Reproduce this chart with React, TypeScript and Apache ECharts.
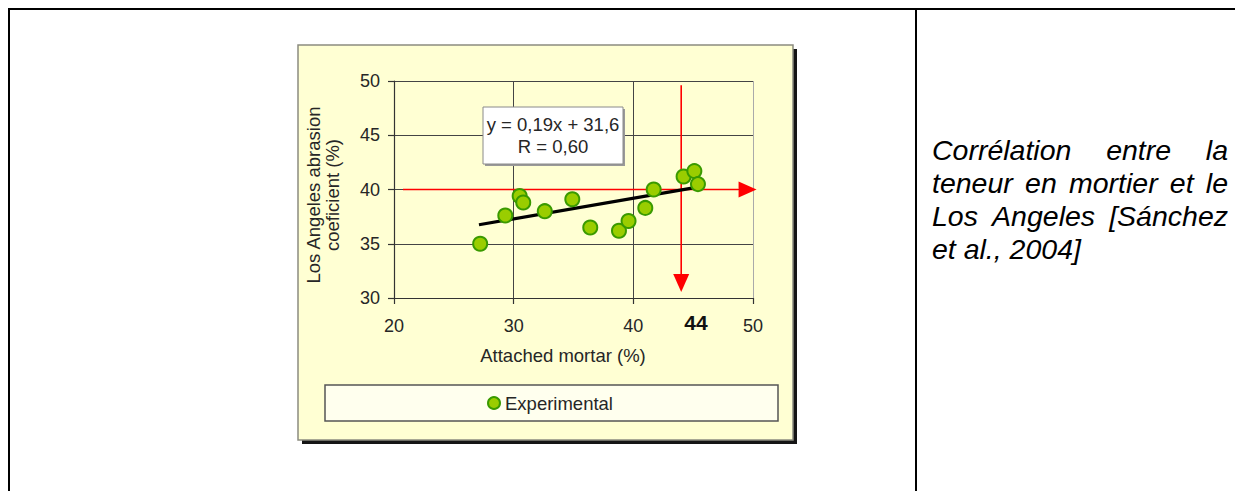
import React, { useEffect, useRef } from 'react';
import * as echarts from 'echarts';

// Experimental points: attached mortar (%) vs Los Angeles abrasion coefficient (%)
const mortarPct = [27.2, 29.3, 30.5, 30.8, 32.6, 34.9, 36.4, 38.8, 39.6, 41.0, 41.7, 44.2, 45.1, 45.4];
const laCoef = [35.0, 37.6, 39.4, 38.8, 38.0, 39.1, 36.5, 36.2, 37.1, 38.3, 40.0, 41.2, 41.7, 40.5];

// Axis scales
const xTicks = [20, 30, 40, 50];
const yTicks = [30, 35, 40, 45, 50];

// Linear fit shown in the equation box
const trendSlope = 0.19;
const trendIntercept = 31.6;
const trendSpan = [27.1, 45.5];
const eqLines = ['y = 0,19x + 31,6', 'R = 0,60'];

// Reading guides: LA limit of 40 and the matching mortar content of 44
const laLimit = 40;
const mortarRead = 44;
const limitArrowX = [20.75, 50.3];
const readArrowY = [49.6, 30.55];

const xName = 'Attached mortar (%)';
const yName = ['Los Angeles abrasion', 'coeficient (%)'];
const legendName = 'Experimental';

const caption = [
  'Corrélation entre la',
  'teneur en mortier et le',
  'Los Angeles [Sánchez',
  'et al., 2004]',
];

const FONT = "'Liberation Sans', Arial, Helvetica, sans-serif";
const TEXT_GREY = '#262626';
const DOT_FILL = '#9ACD00';
const DOT_EDGE = '#3A9A00';

function txt(text: string, x: number, y: number, opts: any = {}) {
  const align = opts.align || 'left';
  const vAlign = opts.vAlign || 'middle';
  return {
    type: 'text',
    x,
    y,
    rotation: opts.rotation || 0,
    z: opts.z ?? 20,
    silent: true,
    style: {
      text,
      fill: opts.fill || TEXT_GREY,
      fontSize: opts.size || 18,
      fontFamily: FONT,
      fontStyle: opts.italic ? 'italic' : 'normal',
      fontWeight: opts.bold ? 'bold' : 'normal',
      align,
      verticalAlign: vAlign,
      textAlign: align,
      textVerticalAlign: vAlign,
    },
  };
}

// Justified caption in the right-hand cell, laid out word by word
function captionElements() {
  const size = 28.5;
  const left = 932;
  const right = 1228;
  const top = 150;
  const step = 33;
  const ctx = document.createElement('canvas').getContext('2d') as CanvasRenderingContext2D;
  ctx.font = `italic ${size}px ${FONT}`;
  const els: any[] = [];
  caption.forEach((line, i) => {
    const y = top + i * step;
    const opts = { size, italic: true, fill: '#000' };
    if (i === caption.length - 1) {
      els.push(txt(line, left, y, opts));
      return;
    }
    const words = line.split(' ');
    const widths = words.map((w) => ctx.measureText(w).width);
    const total = widths.reduce((a, b) => a + b, 0);
    const gap = Math.max((right - left - total) / (words.length - 1), ctx.measureText(' ').width);
    let x = left;
    words.forEach((w, j) => {
      els.push(txt(w, x, y, opts));
      x += widths[j] + gap;
    });
  });
  return els;
}

export default function App() {
  const ref = useRef<HTMLDivElement>(null);

  useEffect(() => {
    const chart = echarts.init(ref.current as HTMLDivElement, null, { renderer: 'svg' });

    const points = mortarPct.map((x, i) => [x, laCoef[i]]);
    const trend = trendSpan.map((x) => [x, +(trendSlope * x + trendIntercept).toFixed(3)]);
    const guides = [
      [limitArrowX[0], laLimit, limitArrowX[1], laLimit],
      [mortarRead, readArrowY[0], mortarRead, readArrowY[1]],
    ];

    const graphic: any[] = [
      // table frame
      { type: 'rect', z: -30, silent: true, shape: { x: 8, y: 8, width: 1227, height: 2 }, style: { fill: '#000' } },
      { type: 'rect', z: -30, silent: true, shape: { x: 8, y: 8, width: 2, height: 483 }, style: { fill: '#000' } },
      { type: 'rect', z: -30, silent: true, shape: { x: 915, y: 8, width: 2, height: 483 }, style: { fill: '#000' } },
      // chart panel with drop shadow
      { type: 'rect', z: -25, silent: true, shape: { x: 302, y: 49, width: 495, height: 395 }, style: { fill: '#151515' } },
      {
        type: 'rect', z: -24, silent: true,
        shape: { x: 298, y: 45, width: 495, height: 395 },
        style: { fill: '#FFFFD3', stroke: '#8c8c80', lineWidth: 1.5 },
      },
      // legend
      {
        type: 'rect', z: 5, silent: true,
        shape: { x: 325, y: 385, width: 453, height: 36 },
        style: { fill: '#FFFFEE', stroke: '#555', lineWidth: 1.5 },
      },
      {
        type: 'circle', z: 6, silent: true,
        shape: { cx: 494, cy: 403, r: 6 },
        style: { fill: DOT_FILL, stroke: DOT_EDGE, lineWidth: 2 },
      },
      txt(legendName, 505, 403, { size: 18.5 }),
      // axis titles
      txt(yName[0], 313, 195, { size: 18.5, align: 'center', rotation: Math.PI / 2 }),
      txt(yName[1], 332, 195, { size: 18.5, align: 'center', rotation: Math.PI / 2 }),
      txt(xName, 563, 355, { size: 18.5, align: 'center' }),
      // equation box
      { type: 'rect', z: 10, silent: true, shape: { x: 485, y: 109, width: 140, height: 57 }, style: { fill: '#999' } },
      {
        type: 'rect', z: 11, silent: true,
        shape: { x: 483, y: 107, width: 140, height: 57 },
        style: { fill: '#FFFFFF', stroke: '#8a8a8a', lineWidth: 1 },
      },
      txt(eqLines[0], 553, 124, { size: 18.5, align: 'center' }),
      txt(eqLines[1], 553, 146, { size: 18.5, align: 'center' }),
      // value read on the mortar axis
      txt(String(mortarRead), 696, 322, { size: 21, bold: true, align: 'center', fill: '#111' }),
      ...captionElements(),
    ];

    const option: any = {
      animation: false,
      backgroundColor: '#FFFFFF',
      grid: { left: 394, top: 81, width: 359, height: 217, show: false },
      xAxis: {
        type: 'value',
        min: xTicks[0],
        max: xTicks[xTicks.length - 1],
        interval: xTicks[1] - xTicks[0],
        axisLine: { show: true, onZero: false, lineStyle: { color: '#333', width: 1.2 } },
        axisTick: { show: true, length: 6, lineStyle: { color: '#333', width: 1.2 } },
        axisLabel: { fontSize: 18, color: TEXT_GREY, margin: 19, fontFamily: FONT },
        splitLine: { show: true, lineStyle: { color: ['#444', '#444', '#444', '#aaa'], width: 1 } },
      },
      yAxis: {
        type: 'value',
        min: yTicks[0],
        max: yTicks[yTicks.length - 1],
        interval: yTicks[1] - yTicks[0],
        axisLine: { show: true, onZero: false, lineStyle: { color: '#333', width: 1.2 } },
        axisTick: { show: true, length: 6, lineStyle: { color: '#333', width: 1.2 } },
        axisLabel: { fontSize: 18, color: TEXT_GREY, margin: 14, fontFamily: FONT },
        splitLine: { show: true, lineStyle: { color: '#444', width: 1 } },
      },
      graphic,
      series: [
        {
          type: 'custom',
          name: 'guides',
          z: 2,
          clip: false,
          silent: true,
          data: guides,
          encode: { x: [0, 2], y: [1, 3] },
          renderItem: (_params: any, api: any) => {
            const a = api.coord([api.value(0), api.value(1)]);
            const b = api.coord([api.value(2), api.value(3)]);
            const dx = b[0] - a[0];
            const dy = b[1] - a[1];
            const len = Math.hypot(dx, dy) || 1;
            const ux = dx / len;
            const uy = dy / len;
            const head = 18;
            const half = 8;
            const bx = b[0] - ux * head;
            const by = b[1] - uy * head;
            return {
              type: 'group',
              children: [
                {
                  type: 'line',
                  shape: { x1: a[0], y1: a[1], x2: bx, y2: by },
                  style: { stroke: '#FF0000', lineWidth: 1.6 },
                },
                {
                  type: 'polygon',
                  shape: {
                    points: [
                      [b[0], b[1]],
                      [bx - uy * half, by + ux * half],
                      [bx + uy * half, by - ux * half],
                    ],
                  },
                  style: { fill: '#FF0000' },
                },
              ],
            };
          },
        },
        {
          type: 'line',
          name: 'trend',
          z: 3,
          silent: true,
          data: trend,
          showSymbol: false,
          symbol: 'none',
          lineStyle: { color: '#000', width: 3.2 },
        },
        {
          type: 'scatter',
          name: legendName,
          z: 4,
          silent: true,
          data: points,
          symbol: 'circle',
          symbolSize: 14,
          itemStyle: { color: DOT_FILL, borderColor: DOT_EDGE, borderWidth: 2, opacity: 1 },
        },
      ],
    };

    chart.setOption(option);
    return () => chart.dispose();
  }, []);

  return (
    <div
      ref={ref}
      style={{ position: 'absolute', left: 0, top: 0, width: 1235, height: 491 }}
    />
  );
}
